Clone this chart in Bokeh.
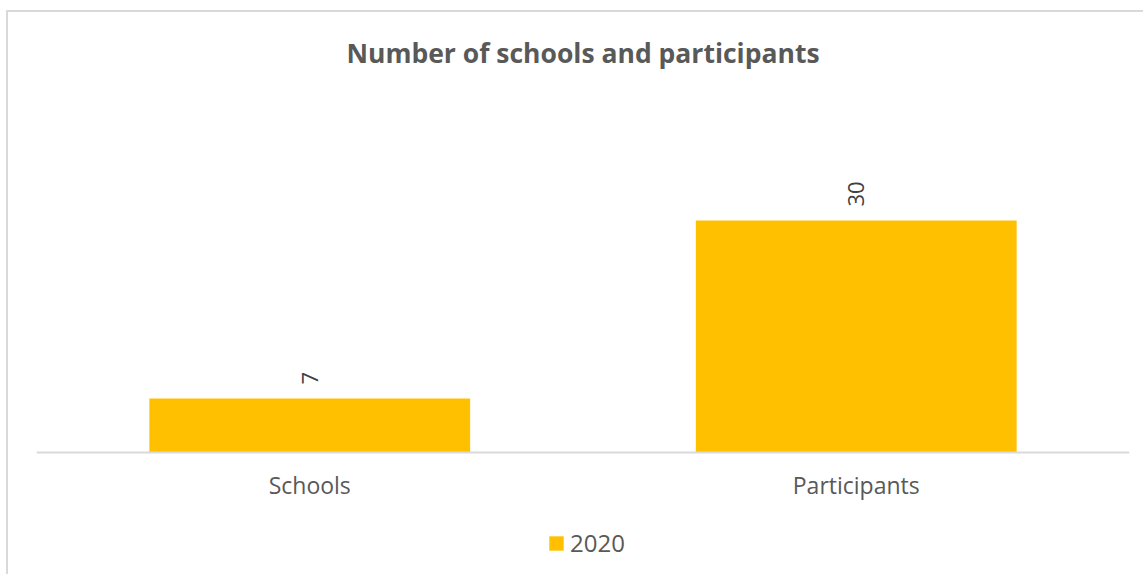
import math
from bokeh.plotting import figure
from bokeh.models import ColumnDataSource, Legend, LegendItem, Range1d, Label
from bokeh.core.properties import value
from bokeh.embed import file_html
from bokeh.resources import INLINE

categories = ["Schools", "Participants"]
values_2020 = [7, 30]
labels_2020 = ["7", "30"]
series_name = "2020"
title_text = "Number of schools and participants"

FONT = "Open Sans"
GRAY = "#595959"
BAR = "#FFC000"

src = ColumnDataSource(data=dict(cat=categories, val=values_2020, lab=labels_2020))

p = figure(
    x_range=categories,
    y_range=Range1d(-16.03, 56.90),
    width=1137,
    height=564,
    output_backend="svg",
    toolbar_location=None,
    min_border_left=28,
    min_border_right=16,
    min_border_top=0,
    min_border_bottom=0,
)
p.styles = {"margin-left": "6px", "margin-top": "10px",
            "border-left": "2px solid #d9d9d9", "border-top": "2px solid #d9d9d9"}

r = p.vbar(x="cat", top="val", width=0.587, source=src, fill_color=BAR, line_color=None)

p.text(x="cat", y="val", text="lab", source=src, angle=math.pi / 2,
       text_align="left", text_baseline="middle", y_offset=-14,
       text_font=value(FONT), text_font_size="22px", text_color="#404040")

title = Label(x=1.0, y=51.72, text=title_text, text_align="center", text_baseline="middle",
              text_font=FONT, text_font_size="26.5px", text_font_style="bold",
              text_color=GRAY)
p.add_layout(title)

p.yaxis.visible = False
p.xgrid.grid_line_color = None
p.ygrid.grid_line_color = None
p.outline_line_color = None

ax = p.xaxis[0]
ax.fixed_location = 0
ax.axis_line_color = "#d9d9d9"
ax.axis_line_width = 2
ax.major_tick_line_color = None
ax.minor_tick_line_color = None
ax.major_label_text_font = FONT
ax.major_label_text_font_size = "23px"
ax.major_label_text_color = GRAY
ax.major_label_standoff = 10

legend = Legend(items=[LegendItem(label=series_name, renderers=[r])],
                orientation="horizontal", location=(511, 17))
legend.label_text_font = FONT
legend.label_text_font_size = "24px"
legend.label_text_color = GRAY
legend.glyph_width = 18
legend.glyph_height = 18
legend.label_standoff = 5
legend.border_line_color = None
legend.background_fill_alpha = 0
legend.margin = 0
legend.padding = 10
p.add_layout(legend, "center")

open("out.html", "w").write(file_html(p, INLINE))
